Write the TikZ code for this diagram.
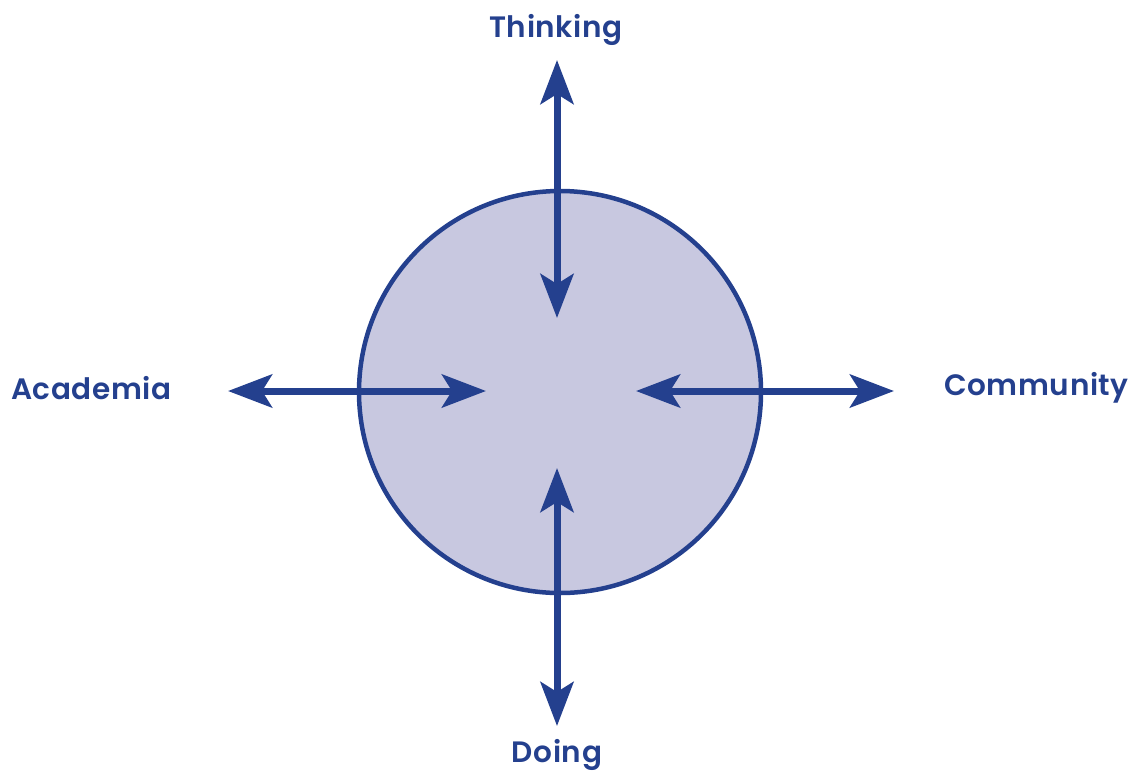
\documentclass[tikz,border=0pt]{standalone}
\usepackage{fontspec}
\setmainfont{Poppins}[BoldFont={* SemiBold}, LetterSpace=2]
\usetikzlibrary{arrows.meta}
\definecolor{navy}{HTML}{24408E}
\definecolor{lavender}{HTML}{C8C8E0}
\begin{document}
\begin{tikzpicture}[x=1pt,y=-1pt,
  twohead/.style={line width=7pt, draw=navy,
    {Stealth[length=44pt,width=33pt,inset=10pt]}-{Stealth[length=44pt,width=33pt,inset=10pt]}},
  axislabel/.style={text=navy, font=\bfseries\fontsize{29.5}{32}\selectfont, inner sep=0pt}]
\useasboundingbox (0,0) rectangle (1131,772);
% central circle
\node (hub) [circle, draw=navy, line width=4.5pt, fill=lavender, minimum size=402pt, inner sep=0pt] at (560,392) {};
% arrow end points
\coordinate (tT) at (557,60);
\coordinate (tB) at (557,318);
\coordinate (dT) at (557,468);
\coordinate (dB) at (557,726);
\coordinate (aL) at (228,391);
\coordinate (aR) at (486,391);
\coordinate (cL) at (636,391);
\coordinate (cR) at (894,391);
\draw[twohead] (tT) -- (tB);
\draw[twohead] (dT) -- (dB);
\draw[twohead] (aL) -- (aR);
\draw[twohead] (cL) -- (cR);
% axis labels
\node (think) [axislabel] at (556,30) {Thinking};
\node (doing) [axislabel] at (557,755) {Doing};
\node (acad) [axislabel, anchor=west] at (11,388) {Academia};
\node (comm) [axislabel, anchor=east] at (1129,388) {Community};
\end{tikzpicture}
\end{document}
